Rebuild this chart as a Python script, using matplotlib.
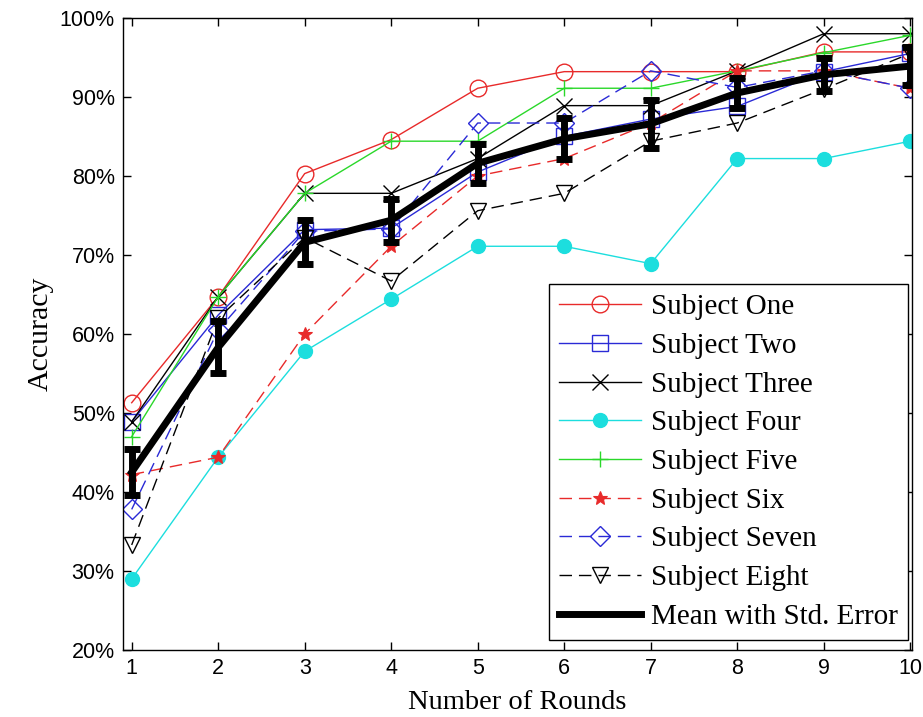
import matplotlib
matplotlib.use('Agg')
import matplotlib.pyplot as plt
import numpy as np
from matplotlib.ticker import FuncFormatter

rounds = [1, 2, 3, 4, 5, 6, 7, 8, 9, 10]

subject_one = [51.3, 64.7, 80.3, 84.6, 91.1, 93.2, 93.2, 93.2, 95.7, 95.7]
subject_two = [48.9, 62.4, 73.2, 73.4, 80.5, 85.0, 87.2, 88.8, 93.2, 95.5]
subject_three = [48.9, 64.7, 77.8, 77.8, 82.2, 88.9, 88.9, 93.3, 98.0, 98.0]
subject_four = [29.0, 44.4, 57.8, 64.4, 71.1, 71.1, 68.9, 82.2, 82.2, 84.4]
subject_five = [47.0, 64.7, 77.8, 84.4, 84.4, 91.1, 91.1, 93.3, 95.6, 97.8]
subject_six = [42.2, 44.4, 60.0, 71.1, 80.0, 82.2, 86.7, 93.3, 93.3, 91.1]
subject_seven = [37.8, 60.5, 73.0, 73.3, 86.7, 86.7, 93.3, 91.2, 93.3, 91.1]
subject_eight = [33.3, 62.0, 72.2, 66.7, 75.6, 77.8, 84.4, 86.7, 91.0, 95.5]

mean_acc = [42.5, 58.3, 71.6, 74.4, 81.6, 84.7, 86.6, 90.5, 92.8, 93.9]
std_err = [2.9, 3.3, 2.8, 2.7, 2.5, 2.6, 3.0, 1.9, 2.1, 2.4]

labels = ['Subject One', 'Subject Two', 'Subject Three', 'Subject Four',
          'Subject Five', 'Subject Six', 'Subject Seven', 'Subject Eight']

serif = ['Liberation Serif', 'DejaVu Serif']
sans = ['Liberation Sans', 'DejaVu Sans']

fig = plt.figure(figsize=(9.23, 7.17), dpi=100)
ax = fig.add_axes([0.1333, 0.0934, 0.8547, 0.8816])

red, blue, green, cyan = '#e82a2a', '#2a2ad6', '#2ad82a', '#1cdede'
dash = (0, (9, 5))

ax.plot(rounds, subject_one, color=red, lw=1, marker='o', ms=12, mfc='none', mew=1,
        label=labels[0])
ax.plot(rounds, subject_two, color=blue, lw=1, marker='s', ms=11, mfc='none', mew=1,
        label=labels[1])
ax.plot(rounds, subject_three, color='black', lw=1, marker='x', ms=12, mew=1,
        label=labels[2])
ax.plot(rounds, subject_four, color=cyan, lw=1, marker='o', ms=10, mfc=cyan, mec=cyan,
        label=labels[3])
ax.plot(rounds, subject_five, color=green, lw=1, marker='+', ms=12, mew=1,
        label=labels[4])
ax.plot(rounds, subject_six, color=red, lw=1, ls=dash, marker='*', ms=10, mew=0.8,
        label=labels[5])
ax.plot(rounds, subject_seven, color=blue, lw=1, ls=dash, marker='D', ms=10, mfc='none',
        mew=1, label=labels[6])
ax.plot(rounds, subject_eight, color='black', lw=1, ls=dash, marker='v', ms=12,
        mfc='none', mew=1, label=labels[7])

ax.plot(rounds, mean_acc, color='black', lw=5, label='Mean with Std. Error', zorder=5)
ax.errorbar(rounds, mean_acc, yerr=std_err, fmt='none', ecolor='black', elinewidth=5,
            capsize=6, capthick=5, zorder=5)

ax.set_xlim(0.9, 10.02)
ax.set_ylim(20, 100)
ax.set_xticks(rounds)
ax.set_yticks(np.arange(20, 101, 10))
ax.yaxis.set_major_formatter(FuncFormatter(lambda v, p: f'{v:.0f}%'))
ax.tick_params(direction='in', top=True, right=True, length=6, width=1, pad=6)
for lbl in ax.get_xticklabels() + ax.get_yticklabels():
    lbl.set_family(sans)
    lbl.set_fontsize(15.5)
for s in ax.spines.values():
    s.set_linewidth(1)

ax.set_xlabel('Number of Rounds', family=serif, fontsize=20.5, labelpad=8)
ax.set_ylabel('Accuracy', family=serif, fontsize=21.5, labelpad=4)

leg = ax.legend(loc='lower right', bbox_to_anchor=(0.995, 0.016), borderaxespad=0,
                prop={'family': serif, 'size': 21}, numpoints=1, handlelength=2.8,
                fancybox=False, edgecolor='black', framealpha=1, labelspacing=0.42,
                handletextpad=0.35, borderpad=0.35)
leg.get_frame().set_linewidth(1)

fig.savefig('out.png', dpi=100)
